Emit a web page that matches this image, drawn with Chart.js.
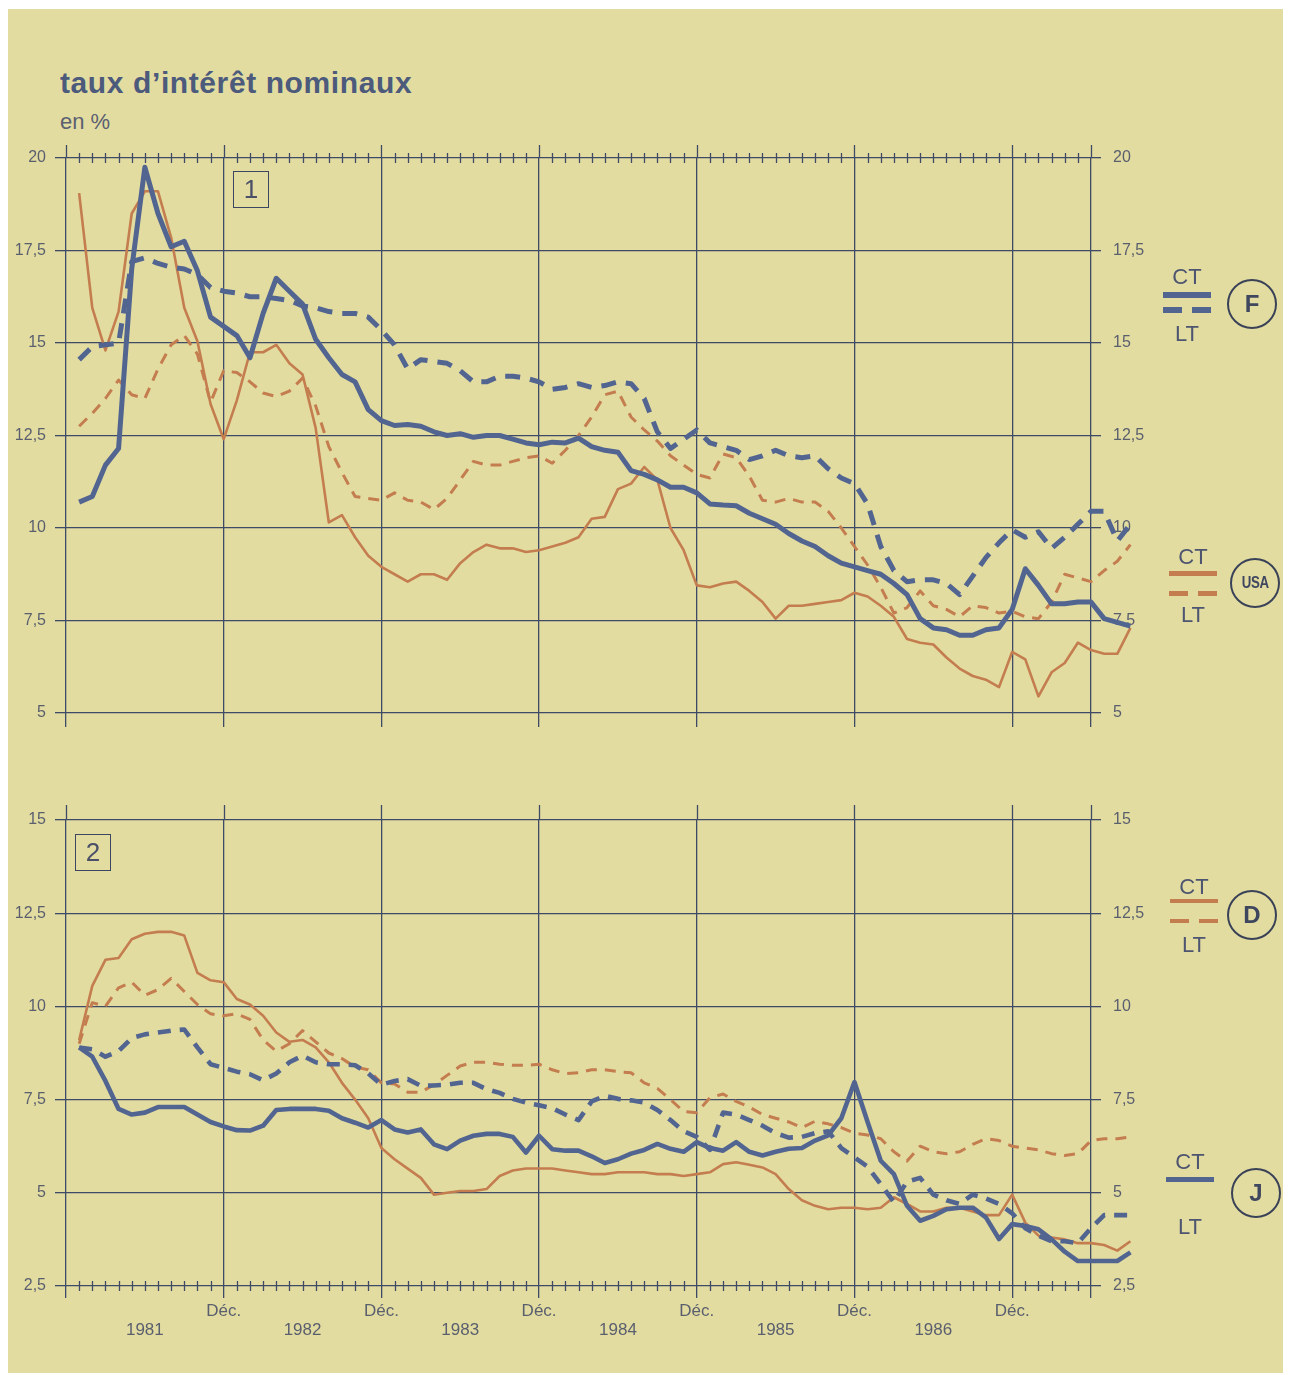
<!DOCTYPE html>
<html lang="fr">
<head>
<meta charset="utf-8">
<title>taux d'intérêt nominaux</title>
<script src="https://cdn.jsdelivr.net/npm/chart.js@4.4.1/dist/chart.umd.min.js"></script>
<style>
  html, body { margin: 0; padding: 0; background: #fff; }
  #wrap { position: relative; width: 1290px; height: 1375px; overflow: hidden; background: #fff;
          font-family: "Liberation Sans", Arial, sans-serif; }
  #paper { position: absolute; left: 8px; top: 9px; width: 1275px; height: 1364px; background: #e3dca1; }
  canvas { position: absolute; left: 0; }
  .abs { position: absolute; }
  .title { left: 60px; top: 68px; font-size: 30px; line-height: 30px; font-weight: bold; color: #4c5a7c;
           white-space: nowrap; letter-spacing: 0.6px; }
  .unit { left: 60px; top: 111px; font-size: 22px; line-height: 22px; color: #5a6071; }
  .panel-no { width: 34px; height: 35px; border: 1.5px solid #3d4660; font-size: 26px; line-height: 35px;
              text-align: center; color: #4a5068; }
  .lg-txt { width: 60px; text-align: center; font-size: 22px; line-height: 22px; color: #4d5570; }
  .lg-bar { height: 5px; }
  .lg-circle { border: 2.5px solid #3a4258; border-radius: 50%; display: flex; align-items: center;
               justify-content: center; font-weight: bold; color: #3f475f; box-sizing: border-box; }
</style>
</head>
<body>
<div id="wrap">
  <div id="paper"></div>
  <div class="abs title">taux d’intérêt nominaux</div>
  <div class="abs unit">en %</div>
  <canvas id="chartTop" width="1290" height="620" style="top:130px"></canvas>
  <canvas id="chartBottom" width="1290" height="560" style="top:790px"></canvas>
  <div class="abs panel-no" style="left:233px; top:171px">1</div>
  <div class="abs panel-no" style="left:75px; top:834px">2</div>
  <div id="legend"></div>
</div>
<script>
// month index: 0 = left edge (Dec 1980), 12 = Déc. 1981 ... 78 = right axis (June 1987)
const MONTHS = Array.from({length: 81}, (_, i) => i + 1);
const GRID_MONTHS = [0, 12, 24, 36, 48, 60, 72, 78];
const BOTTOM_TICKS = [0, 6, 12, 18, 24, 30, 36, 42, 48, 54, 60, 66, 72, 78];
const YEAR_LABELS = ['1981', '1982', '1983', '1984', '1985', '1986'];
const DEC_LABEL = 'Déc.';

// panel 1 : France (bleu) and USA (orange)
const F_CT = [10.7, 10.85, 11.7, 12.15, 17.0, 19.75, 18.5, 17.6, 17.75, 16.95,
  15.7, 15.45, 15.2, 14.6, 15.8, 16.75, 16.4, 16.05, 15.1, 14.6,
  14.15, 13.95, 13.2, 12.9, 12.77, 12.8, 12.75, 12.6, 12.5, 12.55,
  12.45, 12.5, 12.5, 12.4, 12.3, 12.25, 12.32, 12.3, 12.43, 12.2,
  12.1, 12.05, 11.55, 11.45, 11.3, 11.1, 11.1, 10.95, 10.65, 10.62,
  10.6, 10.4, 10.25, 10.1, 9.85, 9.65, 9.5, 9.25, 9.05, 8.95,
  8.85, 8.75, 8.5, 8.2, 7.55, 7.3, 7.25, 7.1, 7.1, 7.25,
  7.3, 7.8, 8.9, 8.45, 7.95, 7.95, 8.0, 8.0, 7.55, 7.45, 7.35];
const F_LT = [14.55, 14.9, 14.95, 15.0, 17.2, 17.3, 17.15, 17.05, 17.0, 16.85,
  16.5, 16.4, 16.35, 16.25, 16.25, 16.2, 16.15, 16.0, 15.95, 15.85,
  15.8, 15.8, 15.7, 15.35, 14.95, 14.3, 14.55, 14.5, 14.45, 14.25,
  13.95, 13.95, 14.1, 14.1, 14.05, 13.95, 13.75, 13.8, 13.9, 13.8,
  13.85, 13.95, 13.9, 13.5, 12.6, 12.15, 12.4, 12.65, 12.3, 12.2,
  12.1, 11.85, 11.95, 12.1, 11.95, 11.9, 11.95, 11.6, 11.35, 11.2,
  10.65, 9.5, 8.85, 8.55, 8.6, 8.6, 8.5, 8.2, 8.7, 9.2,
  9.6, 9.95, 9.75, 9.9, 9.45, 9.75, 10.1, 10.45, 10.45, 9.65, 10.1];
const USA_CT = [19.05, 15.95, 14.8, 15.85, 18.5, 19.1, 19.1, 17.85, 15.95, 15.05,
  13.35, 12.4, 13.45, 14.75, 14.75, 14.95, 14.45, 14.15, 12.7, 10.15,
  10.35, 9.75, 9.25, 8.95, 8.75, 8.55, 8.75, 8.75, 8.6, 9.05,
  9.35, 9.55, 9.45, 9.45, 9.35, 9.4, 9.5, 9.6, 9.75, 10.25,
  10.3, 11.05, 11.2, 11.65, 11.3, 10.0, 9.4, 8.45, 8.4, 8.5,
  8.55, 8.3, 8.0, 7.55, 7.9, 7.9, 7.95, 8.0, 8.05, 8.25,
  8.15, 7.9, 7.6, 7.0, 6.9, 6.85, 6.5, 6.2, 6.0, 5.9,
  5.7, 6.65, 6.45, 5.45, 6.1, 6.35, 6.9, 6.7, 6.6, 6.6, 7.3];
const USA_LT = [12.75, 13.1, 13.5, 14.0, 13.6, 13.5, 14.3, 14.95, 15.2, 14.7,
  13.4, 14.25, 14.2, 13.95, 13.65, 13.55, 13.7, 14.05, 13.3, 12.2,
  11.5, 10.85, 10.8, 10.75, 10.95, 10.75, 10.7, 10.5, 10.8, 11.3,
  11.8, 11.7, 11.7, 11.8, 11.9, 11.95, 11.75, 12.1, 12.5, 13.0,
  13.6, 13.7, 13.0, 12.65, 12.35, 11.95, 11.7, 11.45, 11.35, 12.0,
  11.9, 11.4, 10.75, 10.7, 10.8, 10.7, 10.7, 10.45, 10.0, 9.5,
  9.0, 8.4, 7.7, 7.85, 8.3, 7.9, 7.8, 7.6, 7.9, 7.85,
  7.7, 7.75, 7.6, 7.55, 8.0, 8.75, 8.65, 8.55, 8.85, 9.1, 9.55];

// panel 2 : RFA (orange) and Japon (bleu)
const D_CT = [9.1, 10.55, 11.25, 11.3, 11.8, 11.95, 12.0, 12.0, 11.9, 10.9,
  10.7, 10.65, 10.2, 10.05, 9.75, 9.3, 9.05, 9.1, 8.9, 8.5,
  7.95, 7.5, 7.0, 6.2, 5.9, 5.65, 5.4, 4.95, 5.0, 5.05,
  5.05, 5.1, 5.45, 5.6, 5.65, 5.65, 5.65, 5.6, 5.55, 5.5,
  5.5, 5.55, 5.55, 5.55, 5.5, 5.5, 5.45, 5.5, 5.55, 5.77,
  5.82, 5.75, 5.68, 5.5, 5.1, 4.8, 4.65, 4.56, 4.6, 4.6,
  4.56, 4.6, 4.88, 4.7, 4.5, 4.5, 4.6, 4.6, 4.5, 4.4,
  4.4, 4.95, 4.2, 3.85, 3.8, 3.75, 3.65, 3.65, 3.6, 3.45, 3.7];
const D_LT = [9.0, 10.1, 10.0, 10.5, 10.65, 10.3, 10.45, 10.75, 10.4, 10.05,
  9.8, 9.75, 9.8, 9.65, 9.1, 8.8, 9.0, 9.35, 9.05, 8.75,
  8.6, 8.37, 8.3, 7.95, 7.92, 7.7, 7.7, 7.9, 8.15, 8.4,
  8.5, 8.5, 8.45, 8.42, 8.42, 8.45, 8.3, 8.2, 8.22, 8.3,
  8.3, 8.25, 8.22, 7.95, 7.8, 7.5, 7.18, 7.15, 7.55, 7.65,
  7.45, 7.3, 7.1, 7.0, 6.9, 6.75, 6.92, 6.85, 6.75, 6.6,
  6.55, 6.45, 6.1, 5.85, 6.25, 6.1, 6.05, 6.1, 6.3, 6.45,
  6.4, 6.25, 6.2, 6.15, 6.05, 6.0, 6.05, 6.4, 6.45, 6.45, 6.5];
const J_CT = [8.9, 8.65, 8.0, 7.25, 7.1, 7.15, 7.3, 7.3, 7.3, 7.1,
  6.9, 6.78, 6.68, 6.67, 6.8, 7.22, 7.25, 7.25, 7.25, 7.2,
  7.0, 6.88, 6.75, 6.95, 6.7, 6.62, 6.7, 6.3, 6.17, 6.4,
  6.53, 6.58, 6.58, 6.5, 6.08, 6.53, 6.17, 6.13, 6.13, 5.98,
  5.8, 5.9, 6.05, 6.15, 6.31, 6.18, 6.1, 6.36, 6.2, 6.13,
  6.36, 6.1, 6.0, 6.1, 6.18, 6.2, 6.4, 6.54, 7.0, 7.97,
  6.9, 5.86, 5.5, 4.65, 4.25, 4.38, 4.56, 4.6, 4.6, 4.34,
  3.76, 4.16, 4.11, 4.02, 3.75, 3.42, 3.17, 3.17, 3.17, 3.17, 3.4];
const J_LT = [8.9, 8.85, 8.65, 8.8, 9.15, 9.25, 9.3, 9.35, 9.38, 8.9,
  8.45, 8.35, 8.25, 8.18, 8.02, 8.2, 8.5, 8.68, 8.5, 8.45,
  8.45, 8.42, 8.2, 7.9, 8.0, 8.05, 7.87, 7.88, 7.9, 7.95,
  7.95, 7.78, 7.68, 7.52, 7.42, 7.35, 7.27, 7.1, 6.95, 7.45,
  7.6, 7.52, 7.48, 7.42, 7.22, 6.95, 6.65, 6.5, 6.15, 7.15,
  7.1, 6.95, 6.8, 6.6, 6.48, 6.5, 6.6, 6.65, 6.2, 5.95,
  5.7, 5.23, 4.75, 5.3, 5.4, 4.95, 4.8, 4.7, 4.95, 4.85,
  4.7, 4.45, 4.05, 3.85, 3.7, 3.7, 3.65, 4.05, 4.4, 4.4, 4.4];

const BLUE = '#526590';
const ORANGE = '#c47d4f';
const GRID = '#3f4a66';
const LABEL = '#5a5f6e';

Chart.defaults.font.family = '"Liberation Sans", Arial, sans-serif';

function series(values) {
  return MONTHS.map((m, i) => ({x: m, y: values[i]}));
}

function line(values, color, width, dash) {
  return {
    data: series(values),
    borderColor: color,
    borderWidth: width,
    borderDash: dash || [],
    borderJoinStyle: 'round',
    pointRadius: 0,
    tension: 0,
    clip: false,
  };
}

const commaLabel = v => String(v).replace('.', ',');

// small month marks across one edge, and the grid lines running past the top edge
const frameMarks = {
  id: 'frameMarks',
  beforeDatasetsDraw(chart, args, opts) {
    const {ctx, chartArea} = chart;
    const x = chart.scales.x;
    const edgeY = opts.edge === 'top' ? chartArea.top : chartArea.bottom;
    ctx.save();
    ctx.strokeStyle = GRID;
    ctx.lineWidth = 1.3;
    ctx.beginPath();
    for (let m = 1; m < 78; m++) {
      if (m % 12 === 0) continue;
      const px = Math.round(x.getPixelForValue(m)) + 0.5;
      ctx.moveTo(px, edgeY - 5);
      ctx.lineTo(px, edgeY + 5);
    }
    for (const v of GRID_MONTHS) {
      const px = Math.round(x.getPixelForValue(v)) + 0.5;
      ctx.moveTo(px, chartArea.top - opts.extendTop);
      ctx.lineTo(px, chartArea.top);
    }
    ctx.stroke();
    ctx.restore();
  }
};

function buildOptions({yMin, yMax, xTicks, xLabel, xHeight, padding, tickLength, edge, extendTop}) {
  const isGrid = v => GRID_MONTHS.includes(v);
  return {
    responsive: false,
    animation: false,
    events: [],
    layout: {padding},
    plugins: {
      legend: {display: false},
      tooltip: {enabled: false},
      frameMarks: {edge, extendTop},
    },
    scales: {
      x: {
        type: 'linear',
        bounds: 'data',
        // fixed range without user bounds, so the lines may run on past the right axis
        afterDataLimits: s => { s.min = 0; s.max = 78; },
        afterBuildTicks: s => { s.ticks = xTicks.map(v => ({value: v})); },
        afterFit: s => { s.height = xHeight; },
        border: {display: false},
        grid: {
          color: ctx => isGrid(ctx.tick.value) ? GRID : 'rgba(0,0,0,0)',
          tickColor: ctx => isGrid(ctx.tick.value) ? GRID : 'rgba(0,0,0,0)',
          lineWidth: 1.3,
          tickLength,
        },
        ticks: {
          display: !!xLabel,
          autoSkip: false,
          maxRotation: 0,
          padding: 4,
          color: LABEL,
          font: {size: 17, lineHeight: 1.1},
          callback: v => xLabel ? xLabel(v) : '',
        },
      },
      y: {
        position: 'left',
        min: yMin, max: yMax,
        afterFit: s => { s.width = 66; },
        border: {display: false},
        grid: {color: GRID, lineWidth: 1.3, tickLength: 11},
        ticks: {stepSize: 2.5, padding: 9, color: LABEL, font: {size: 16}, callback: commaLabel},
      },
      y2: {
        position: 'right',
        min: yMin, max: yMax,
        afterFit: s => { s.width = 60; },
        border: {display: false},
        grid: {color: GRID, lineWidth: 1.3, tickLength: 10, drawOnChartArea: false},
        ticks: {stepSize: 2.5, padding: 12, color: LABEL, font: {size: 16}, callback: commaLabel},
      },
    },
  };
}

const bottomLabel = v => {
  if (v % 12 === 6 && v < 72) return ['', YEAR_LABELS[(v - 6) / 12]];
  if (v % 12 === 0 && v > 0 && v < 78) return [DEC_LABEL, ''];
  return '';
};

new Chart(document.getElementById('chartTop'), {
  type: 'line',
  data: {
    datasets: [
      line(F_CT, BLUE, 5),
      line(F_LT, BLUE, 5, [15, 10]),
      line(USA_CT, ORANGE, 2.6),
      line(USA_LT, ORANGE, 3, [11, 8]),
    ],
  },
  options: buildOptions({
    yMin: 5, yMax: 20, xTicks: GRID_MONTHS, xLabel: null, xHeight: 20,
    padding: {top: 28, bottom: 17, left: 0, right: 139},
    tickLength: 14, edge: 'top', extendTop: 13,
  }),
  plugins: [frameMarks],
});

new Chart(document.getElementById('chartBottom'), {
  type: 'line',
  data: {
    datasets: [
      line(J_CT, BLUE, 4.6),
      line(J_LT, BLUE, 4.6, [13, 9]),
      line(D_CT, ORANGE, 2.6),
      line(D_LT, ORANGE, 3, [11, 8]),
    ],
  },
  options: buildOptions({
    yMin: 2.5, yMax: 15, xTicks: BOTTOM_TICKS, xLabel: bottomLabel, xHeight: 50,
    padding: {top: 30, bottom: 14, left: 0, right: 139},
    tickLength: 12, edge: 'bottom', extendTop: 15,
  }),
  plugins: [frameMarks],
});

// country keys on the right
const LEGEND_ITEMS = [
  {name: 'F', color: BLUE, cx: 1187, ct: 266, solid: 292, dash: 307, lt: 323, bar: 6, circle: [1252, 304], size: 24},
  {name: 'USA', color: ORANGE, cx: 1193, ct: 546, solid: 571, dash: 591, lt: 604, bar: 5, circle: [1255, 583], size: 17},
  {name: 'D', color: ORANGE, cx: 1194, ct: 876, solid: 899, dash: 919, lt: 934, bar: 4, circle: [1252, 915], size: 24},
  {name: 'J', color: BLUE, cx: 1190, ct: 1151, solid: 1177, dash: null, lt: 1216, bar: 5, circle: [1256, 1193], size: 24},
];

const legendEl = document.getElementById('legend');
function addEl(cls, style, text) {
  const d = document.createElement('div');
  d.className = 'abs ' + cls;
  Object.assign(d.style, style);
  if (text) d.textContent = text;
  legendEl.appendChild(d);
  return d;
}
for (const it of LEGEND_ITEMS) {
  addEl('lg-txt', {left: (it.cx - 30) + 'px', top: it.ct + 'px'}, 'CT');
  addEl('lg-txt', {left: (it.cx - 30) + 'px', top: it.lt + 'px'}, 'LT');
  addEl('lg-bar', {left: (it.cx - 24) + 'px', top: it.solid + 'px', width: '48px', height: it.bar + 'px', background: it.color});
  if (it.dash !== null) {
    addEl('lg-bar', {left: (it.cx - 24) + 'px', top: it.dash + 'px', width: '19px', height: it.bar + 'px', background: it.color});
    addEl('lg-bar', {left: (it.cx + 5) + 'px', top: it.dash + 'px', width: '19px', height: it.bar + 'px', background: it.color});
  }
  const c = addEl('lg-circle', {
    left: (it.circle[0] - 25) + 'px', top: (it.circle[1] - 25) + 'px',
    width: '50px', height: '50px', fontSize: it.size + 'px',
  }, '');
  const s = document.createElement('span');
  s.textContent = it.name;
  if (it.name === 'USA') { s.style.display = 'inline-block'; s.style.transform = 'scaleX(0.78)'; s.style.letterSpacing = '-0.5px'; }
  c.appendChild(s);
}
</script>
</body>
</html>
